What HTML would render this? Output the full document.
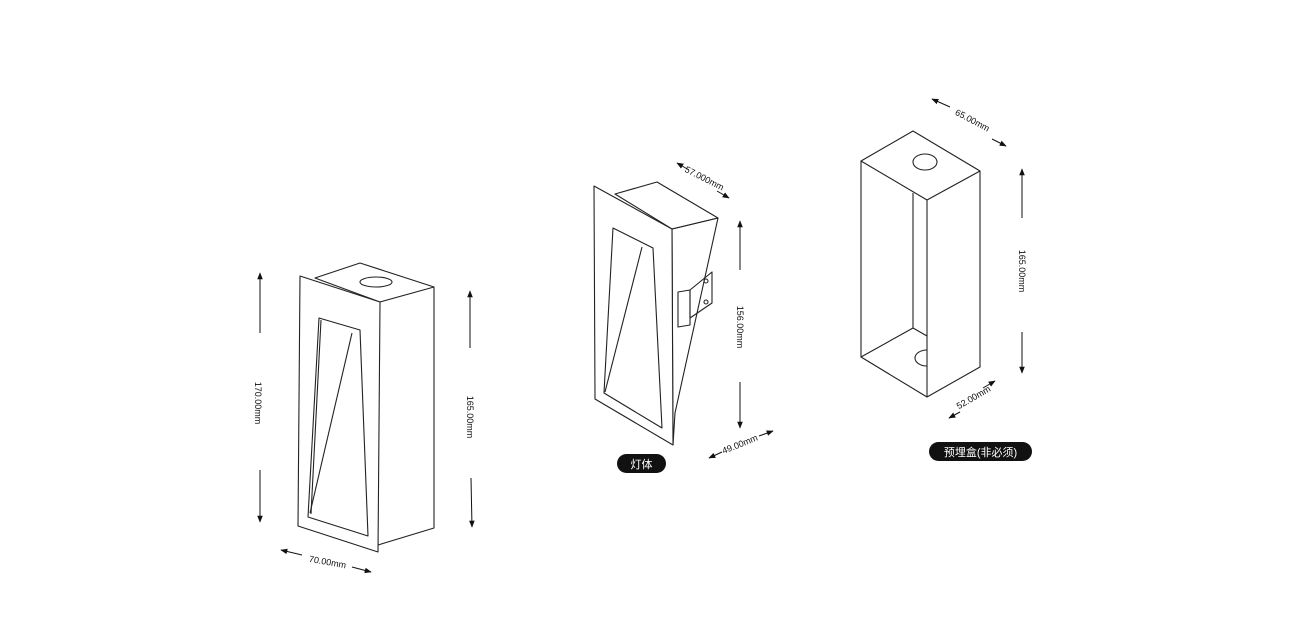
<!DOCTYPE html>
<html><head><meta charset="utf-8"><style>
html,body{margin:0;padding:0;background:#fff;width:1300px;height:628px;overflow:hidden}
svg{display:block}
text{font-family:"Liberation Sans","Noto Sans CJK SC",sans-serif;font-size:9px;fill:#111}
</style></head><body>
<svg width="1300" height="628" viewBox="0 0 1300 628">
<defs><marker id="a" viewBox="0 0 10 10" refX="9" refY="5" markerWidth="7" markerHeight="7" orient="auto-start-reverse"><path d="M0,1 L10,5 L0,9z" fill="#111"/></marker></defs>
<g fill="none" stroke="#222" stroke-width="1.1" stroke-linejoin="round">
<!-- left object -->
<polygon points="315,278 360,263 434,287 380,302"/>
<polyline points="434,287 434,528 378,545"/>
<polygon points="300,276 380,302 378,552 298,526" fill="#fff"/>
<ellipse cx="376" cy="282" rx="16" ry="5"/>
<polygon points="319,318 360,330 368,536 308,517"/>
<line x1="352" y1="333" x2="310" y2="513"/>
<line x1="321" y1="320" x2="311" y2="514"/>
<!-- middle object -->
<polygon points="615,194 657,182 718,218 672,229"/>
<polygon points="672,229 718,218 675,413 673,445"/>
<polygon points="594,186 672,229 673,445 595,399" fill="#fff"/>
<polygon points="613,228 653,248 662,428 604,393"/>
<line x1="642" y1="247" x2="605" y2="392"/>
<polygon points="678,292 690,290 690,325 678,327"/>
<polygon points="690,290 712,272 712,303 690,318"/>
<circle cx="706" cy="281" r="2"/><circle cx="706" cy="302" r="2"/>
<!-- right box -->
<polygon points="861,161 913,131 980,171 927,200"/>
<polyline points="861,161 861,357 927,397 980,367 980,171"/>
<line x1="927" y1="200" x2="927" y2="397"/>
<polyline points="913,193 913,328 861,357"/>
<line x1="913" y1="328" x2="927" y2="336"/>
<ellipse cx="925" cy="162" rx="12" ry="8"/>
<path d="M927,350 A12,8 0 1,0 927,366"/>
</g>
<g stroke="#111" stroke-width="1" fill="none">
<line x1="260" y1="333" x2="260" y2="273" marker-end="url(#a)"/>
<line x1="260" y1="470" x2="260" y2="522" marker-end="url(#a)"/>
<line x1="470" y1="348" x2="470" y2="291" marker-end="url(#a)"/>
<line x1="471" y1="478" x2="472" y2="527" marker-end="url(#a)"/>
<line x1="302" y1="555" x2="281" y2="550" marker-end="url(#a)"/>
<line x1="352" y1="567" x2="371" y2="572" marker-end="url(#a)"/>
<line x1="689" y1="170" x2="677" y2="163" marker-end="url(#a)"/>
<line x1="717" y1="191" x2="729" y2="198" marker-end="url(#a)"/>
<line x1="740" y1="270" x2="740" y2="221" marker-end="url(#a)"/>
<line x1="740" y1="382" x2="740" y2="428" marker-end="url(#a)"/>
<line x1="722" y1="452" x2="709" y2="458" marker-end="url(#a)"/>
<line x1="759" y1="436" x2="773" y2="431" marker-end="url(#a)"/>
<line x1="950" y1="107" x2="932" y2="99" marker-end="url(#a)"/>
<line x1="992" y1="139" x2="1006" y2="146" marker-end="url(#a)"/>
<line x1="1022" y1="218" x2="1022" y2="169" marker-end="url(#a)"/>
<line x1="1022" y1="332" x2="1022" y2="373" marker-end="url(#a)"/>
<line x1="983" y1="388" x2="995" y2="381" marker-end="url(#a)"/>
<line x1="960" y1="412" x2="949" y2="418" marker-end="url(#a)"/>
</g>
<text transform="translate(255,403) rotate(90)" text-anchor="middle">170.00mm</text>
<text transform="translate(467,417) rotate(90)" text-anchor="middle">165.00mm</text>
<text transform="translate(327,565) rotate(10)" text-anchor="middle">70.00mm</text>
<text transform="translate(703,181) rotate(27)" text-anchor="middle">57.000mm</text>
<text transform="translate(737,327) rotate(90)" text-anchor="middle">156.00mm</text>
<text transform="translate(741,447) rotate(-22)" text-anchor="middle">49.00mm</text>
<text transform="translate(971,123) rotate(28)" text-anchor="middle">65.00mm</text>
<text transform="translate(1019,271) rotate(90)" text-anchor="middle">165.00mm</text>
<text transform="translate(975,400) rotate(-30)" text-anchor="middle">52.00mm</text>
<rect x="617" y="454" width="49" height="19" rx="9.5" fill="#111"/>
<text x="641.5" y="468" text-anchor="middle" style="fill:#fff;font-size:11px">灯体</text>
<rect x="929" y="442" width="103" height="19" rx="9.5" fill="#111"/>
<text x="980.5" y="456" text-anchor="middle" style="fill:#fff;font-size:11px">预埋盒(非必须)</text>
</svg>
</body></html>
